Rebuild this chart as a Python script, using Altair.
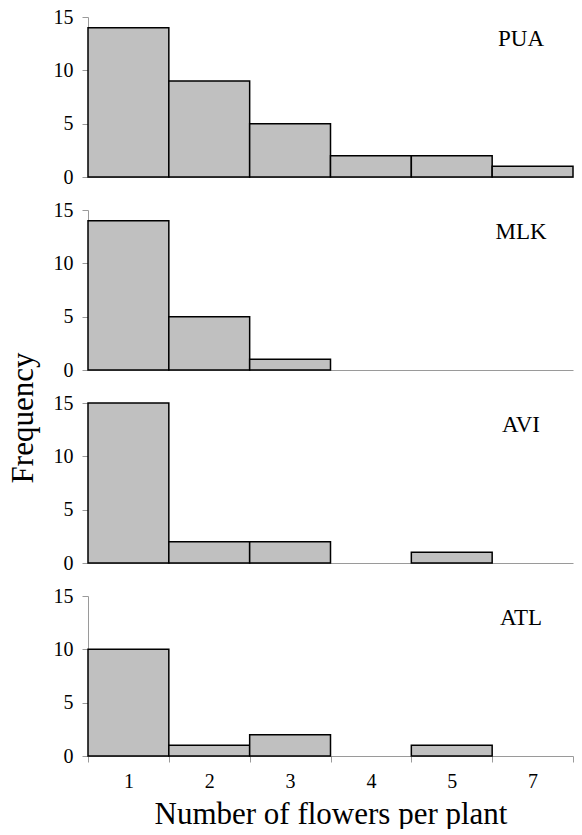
import altair as alt
import pandas as pd

categories = ["1", "2", "3", "4", "5", "7"]
sites = ["PUA", "MLK", "AVI", "ATL"]
pua = [14, 9, 5, 2, 2, 1]
mlk = [14, 5, 1, 0, 0, 0]
avi = [15, 2, 2, 0, 1, 0]
atl = [10, 1, 2, 0, 1, 0]
y_ticks = [0, 5, 10, 15]
x_title = "Number of flowers per plant"
y_title = "Frequency"

series = {"PUA": pua, "MLK": mlk, "AVI": avi, "ATL": atl}

FONT = "Liberation Serif"
PW, PH = 485, 160
panels = []
for i, s in enumerate(sites):
    df = pd.DataFrame({"flowers": categories, "freq": series[s]})
    df = df[df["freq"] > 0]
    last = i == len(sites) - 1
    if last:
        xaxis = alt.Axis(title=x_title, labelAngle=0, tickBand="extent",
                         tickColor="#9a9a9a", tickSize=6, domainColor="#9a9a9a",
                         labelFont=FONT, labelFontSize=20, labelColor="black",
                         labelPadding=9, titleFont=FONT, titleFontSize=31,
                         titleFontWeight="normal", titleColor="black", titlePadding=8)
    else:
        xaxis = alt.Axis(title=None, labels=False, ticks=False, domainColor="#9a9a9a",
                         minExtent=0, maxExtent=0)
    bars = alt.Chart(df).mark_bar(fill="#c0c0c0", stroke="black", strokeWidth=1.5).encode(
        x=alt.X("flowers:O", scale=alt.Scale(domain=categories, paddingInner=0, paddingOuter=0),
                axis=xaxis),
        y=alt.Y("freq:Q", scale=alt.Scale(domain=[0, 15]),
                axis=alt.Axis(title=None, values=y_ticks, grid=False, tickColor="#9a9a9a",
                              domainColor="#9a9a9a", tickSize=6, labelPadding=9,
                              labelFont=FONT, labelFontSize=20, labelColor="black")),
    )
    label = alt.Chart(pd.DataFrame({"site": [s]})).mark_text(
        font=FONT, fontSize=23, color="black", align="center", baseline="middle"
    ).encode(x=alt.value(433), y=alt.value(22), text="site:N")
    panels.append(alt.layer(bars, label).properties(width=PW, height=PH))

chart = alt.vconcat(*panels, spacing=33, bounds="flush").properties(
    title=alt.TitleParams(y_title, orient="left", anchor="middle", font=FONT, fontSize=31,
                          fontWeight="normal", color="black", offset=13),
    padding={"left": 0, "top": -1, "right": 0, "bottom": 0},
).configure_view(stroke=None)

chart.save("out.html", embed_options={"renderer": "svg", "actions": False})
